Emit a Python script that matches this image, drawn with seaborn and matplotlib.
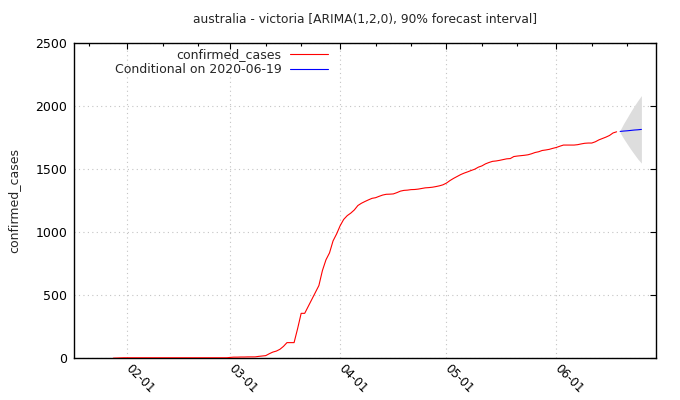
import pandas as pd
import matplotlib
matplotlib.use('Agg')
import matplotlib.pyplot as plt
import matplotlib.dates as mdates
from matplotlib.transforms import ScaledTranslation
import seaborn as sns

# observed series, daily from 2020-01-28 to 2020-06-18
obs_start = '2020-01-28'
jan_vals = [1, 2, 3, 4]
feb_vals = [4] * 29
mar_vals = [7, 9, 9, 10, 10, 11, 11, 11, 15, 18, 21, 36, 49, 57, 71, 94,
            124, 124, 124, 235, 356, 356, 411, 466, 520, 576, 695, 780, 835,
            930, 985]
apr_vals = [1050, 1100, 1130, 1150, 1175, 1210, 1228, 1242, 1255, 1267, 1272,
            1283, 1293, 1299, 1300, 1302, 1312, 1324, 1330, 1332, 1336, 1337,
            1340, 1345, 1350, 1352, 1355, 1360, 1366, 1374]
may_vals = [1388, 1408, 1425, 1440, 1455, 1467, 1477, 1488, 1498, 1514, 1524,
            1540, 1551, 1560, 1563, 1568, 1574, 1580, 1582, 1598, 1602, 1605,
            1608, 1612, 1620, 1630, 1636, 1646, 1650, 1655, 1663]
jun_vals = [1670, 1680, 1689, 1689, 1689, 1689, 1692, 1698, 1703, 1705, 1705,
            1715, 1730, 1741, 1752, 1765, 1785, 1794]
cases = jan_vals + feb_vals + mar_vals + apr_vals + may_vals + jun_vals

# forecast, conditional on 2020-06-19
fc_start = '2020-06-19'
fc_mean = [1797, 1800, 1802, 1805, 1808, 1810, 1813]
fc_lower = [1787, 1740, 1697, 1655, 1616, 1578, 1546]
fc_upper = [1807, 1860, 1907, 1955, 2000, 2042, 2081]

major_ticks = ['2020-02-01', '2020-03-01', '2020-04-01', '2020-05-01', '2020-06-01']
minor_ticks = ['2020-01-21', '2020-02-11', '2020-02-21', '2020-03-11', '2020-03-21',
               '2020-04-11', '2020-04-21', '2020-05-11', '2020-05-21',
               '2020-06-11', '2020-06-21']

obs = pd.DataFrame({'date': pd.date_range(obs_start, periods=len(cases), freq='D'),
                    'confirmed_cases': cases})
fc = pd.DataFrame({'date': pd.date_range(fc_start, periods=len(fc_mean), freq='D'),
                   'mean': fc_mean, 'lower': fc_lower, 'upper': fc_upper})

sns.set_style('white')
plt.rcParams['font.family'] = ['DejaVu Sans']
plt.rcParams['font.size'] = 9

fig = plt.figure(figsize=(6.8, 4.0), dpi=100)
ax = fig.add_axes([0.1093, 0.1043, 0.8561, 0.789])

ax.fill_between(fc['date'], fc['lower'], fc['upper'], color='#dddddd',
                linewidth=0, zorder=1)
sns.lineplot(data=obs, x='date', y='confirmed_cases', ax=ax, color='#ff0000',
             linewidth=0.8, label='confirmed_cases', zorder=3)
sns.lineplot(data=fc, x='date', y='mean', ax=ax, color='#0000ff',
             linewidth=0.8, label='Conditional on 2020-06-19', zorder=3)

ax.set_xlim(pd.Timestamp('2020-01-17'), pd.Timestamp('2020-06-29 06:00'))
ax.set_ylim(0, 2500)
ax.set_yticks([0, 500, 1000, 1500, 2000, 2500])
ax.set_xticks(pd.to_datetime(major_ticks))
ax.set_xticks(pd.to_datetime(minor_ticks), minor=True)
ax.xaxis.set_major_formatter(mdates.DateFormatter('%m-%d'))

ax.grid(True, which='major', color='#c4c4c4', linestyle=(0, (1, 3)), linewidth=0.8)
ax.set_axisbelow(True)

ax.tick_params(which='both', direction='in', top=True, right=True, width=0.8,
               colors='black', labelsize=9)
ax.tick_params(which='major', length=4.5)
ax.tick_params(which='minor', length=2.5)
ax.tick_params(axis='y', pad=5)
ax.tick_params(axis='x', pad=2.5)
shift = ScaledTranslation(-4 / 100, 0, fig.dpi_scale_trans)
for lbl in ax.get_xticklabels():
    lbl.set_rotation(-45)
    lbl.set_ha('left')
    lbl.set_va('top')
    lbl.set_fontsize(8.6)
    lbl.set_transform(lbl.get_transform() + shift)

for sp in ax.spines.values():
    sp.set_color('black')
    sp.set_linewidth(1.0)

ax.set_xlabel('')
ax.set_ylabel('confirmed_cases', fontsize=9, labelpad=11)
ax.set_title('australia - victoria [ARIMA(1,2,0), 90% forecast interval]',
             fontsize=8.8, pad=14)

ax.legend(loc='upper left', bbox_to_anchor=(0.0695, 0.983), frameon=False,
          markerfirst=False, handlelength=3.0, handletextpad=0.7,
          labelspacing=0.15, borderpad=0, borderaxespad=0, fontsize=9)

fig.savefig('out.png', dpi=100)
